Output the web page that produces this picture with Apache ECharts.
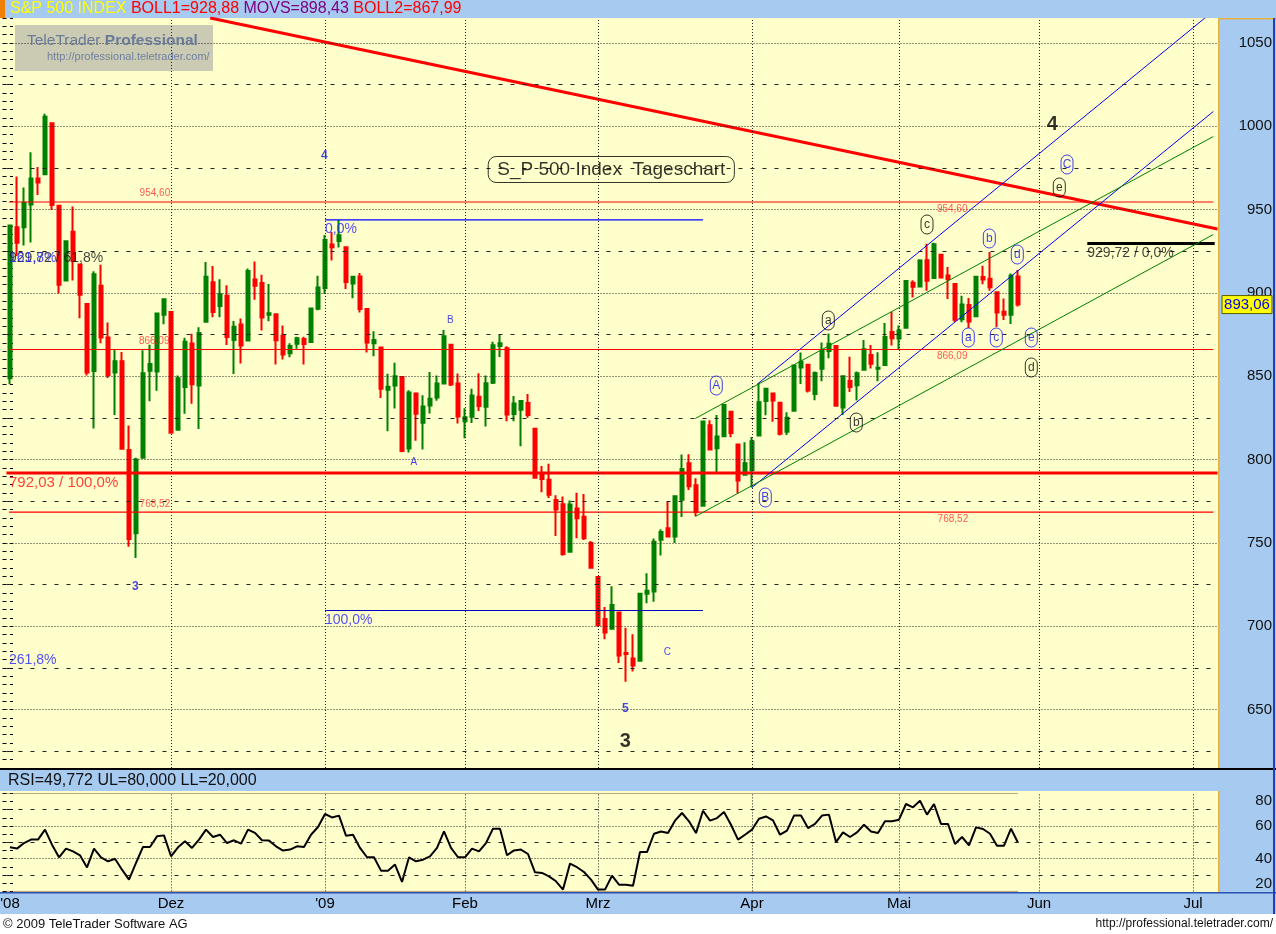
<!DOCTYPE html>
<html><head><meta charset="utf-8">
<script src="https://cdn.jsdelivr.net/npm/echarts@6/dist/echarts.min.js"></script>
<style>html,body{margin:0;padding:0;background:#fff}#c{width:1276px;height:934px}</style>
</head><body><div id="c"></div>
<script>
// ---------- DATA ----------
const dates = [
'2008-10-28','2008-10-29','2008-10-30','2008-10-31',
'2008-11-03','2008-11-04','2008-11-05','2008-11-06','2008-11-07','2008-11-10','2008-11-11','2008-11-12','2008-11-13','2008-11-14','2008-11-17','2008-11-18','2008-11-19','2008-11-20','2008-11-21','2008-11-24','2008-11-25','2008-11-26','2008-11-28',
'2008-12-01','2008-12-02','2008-12-03','2008-12-04','2008-12-05','2008-12-08','2008-12-09','2008-12-10','2008-12-11','2008-12-12','2008-12-15','2008-12-16','2008-12-17','2008-12-18','2008-12-19','2008-12-22','2008-12-23','2008-12-24','2008-12-26','2008-12-29','2008-12-30','2008-12-31',
'2009-01-02','2009-01-05','2009-01-06','2009-01-07','2009-01-08','2009-01-09','2009-01-12','2009-01-13','2009-01-14','2009-01-15','2009-01-16','2009-01-20','2009-01-21','2009-01-22','2009-01-23','2009-01-26','2009-01-27','2009-01-28','2009-01-29','2009-01-30',
'2009-02-02','2009-02-03','2009-02-04','2009-02-05','2009-02-06','2009-02-09','2009-02-10','2009-02-11','2009-02-12','2009-02-13','2009-02-17','2009-02-18','2009-02-19','2009-02-20','2009-02-23','2009-02-24','2009-02-25','2009-02-26','2009-02-27',
'2009-03-02','2009-03-03','2009-03-04','2009-03-05','2009-03-06','2009-03-09','2009-03-10','2009-03-11','2009-03-12','2009-03-13','2009-03-16','2009-03-17','2009-03-18','2009-03-19','2009-03-20','2009-03-23','2009-03-24','2009-03-25','2009-03-26','2009-03-27','2009-03-30','2009-03-31',
'2009-04-01','2009-04-02','2009-04-03','2009-04-06','2009-04-07','2009-04-08','2009-04-09','2009-04-13','2009-04-14','2009-04-15','2009-04-16','2009-04-17','2009-04-20','2009-04-21','2009-04-22','2009-04-23','2009-04-24','2009-04-27','2009-04-28','2009-04-29','2009-04-30',
'2009-05-01','2009-05-04','2009-05-05','2009-05-06','2009-05-07','2009-05-08','2009-05-11','2009-05-12','2009-05-13','2009-05-14','2009-05-15','2009-05-18','2009-05-19','2009-05-20','2009-05-21','2009-05-22','2009-05-26','2009-05-27'
];
const futureDates = [
'2009-05-28','2009-05-29',
'2009-06-01','2009-06-02','2009-06-03','2009-06-04','2009-06-05','2009-06-08','2009-06-09','2009-06-10','2009-06-11','2009-06-12',
'2009-06-15','2009-06-16','2009-06-17','2009-06-18','2009-06-19','2009-06-22','2009-06-23','2009-06-24','2009-06-25','2009-06-26',
'2009-06-29','2009-06-30','2009-07-01','2009-07-02','2009-07-06','2009-07-07'
];
const open = [
848.92,939.51,939.38,953.11,
968.67,971.31,1001.84,952.40,907.44,936.75,917.15,893.39,853.13,904.36,873.23,852.34,859.03,805.87,755.84,801.20,853.40,852.90,886.89,
888.61,817.94,843.60,869.75,844.43,882.71,906.48,892.17,898.35,871.79,881.07,871.53,908.16,905.98,886.96,887.20,874.31,863.87,869.51,872.37,870.58,890.59,
902.99,929.17,931.17,927.45,905.73,909.91,890.40,869.79,867.28,841.99,844.45,849.64,806.77,839.74,822.16,832.50,837.30,845.73,868.89,845.69,
823.09,825.69,837.77,831.75,846.09,868.24,866.87,827.41,829.91,833.95,818.61,791.06,787.91,775.87,773.25,744.69,770.64,765.76,749.93,
729.57,704.44,698.60,708.27,684.04,680.76,679.28,719.59,720.89,751.97,758.84,753.88,776.01,797.92,784.58,772.31,820.60,806.81,814.06,828.68,809.07,790.88,
793.59,814.53,835.13,839.75,834.12,816.76,829.29,855.33,856.88,839.44,854.54,865.18,868.27,831.25,847.26,844.62,853.91,862.82,854.48,856.85,876.59,
872.74,879.21,906.10,903.95,919.58,909.03,922.99,910.52,905.40,884.24,892.76,886.07,909.67,908.62,900.42,888.68,887.00,909.95
];
const high = [
940.51,969.97,963.23,984.38,
975.57,1007.51,1001.84,952.40,931.46,951.95,917.15,893.39,913.01,916.88,882.29,865.90,864.57,820.52,801.20,865.60,868.94,887.68,896.25,
888.61,850.54,873.12,875.60,879.42,918.57,916.26,908.27,904.63,883.24,884.63,914.66,918.85,911.02,905.47,887.37,880.44,869.79,873.74,873.70,891.12,910.32,
934.73,936.63,943.85,927.45,910.00,911.93,890.40,877.02,867.28,851.59,858.13,849.64,841.72,839.74,838.61,852.53,850.45,877.86,868.89,851.66,
830.78,842.60,851.85,850.55,870.75,875.01,868.05,838.22,835.48,839.43,818.61,796.17,797.58,778.69,777.85,775.49,780.12,779.42,751.27,
729.57,711.67,724.12,708.27,699.09,695.27,719.60,731.92,752.63,758.29,774.53,778.12,803.04,803.24,788.91,823.37,823.65,826.78,832.98,828.68,809.07,810.48,
813.62,845.61,842.50,839.75,834.12,828.42,856.91,864.31,856.88,852.93,870.35,875.63,868.27,850.09,861.78,852.87,871.80,868.83,864.48,882.06,888.70,
880.48,907.85,907.70,920.28,929.58,930.17,922.99,915.57,905.40,898.36,896.97,910.00,916.39,924.60,900.42,896.65,911.76,913.84
];
const low = [
845.27,922.26,928.50,930.23,
958.82,971.31,949.86,899.73,906.90,907.47,884.90,850.48,818.69,869.88,848.98,826.84,806.18,747.78,741.02,801.20,834.99,841.37,881.21,
815.69,817.94,827.60,833.60,818.41,882.71,885.38,885.45,868.73,851.35,857.72,871.53,895.94,877.44,883.02,857.09,860.10,861.44,866.52,857.07,870.58,889.67,
899.35,919.53,927.28,902.37,896.81,888.31,864.32,862.02,836.93,817.04,830.66,804.47,804.30,811.29,806.07,827.69,835.40,845.73,844.15,821.67,
812.87,821.98,829.18,819.91,845.42,861.65,822.99,822.99,808.06,825.21,789.17,780.43,777.03,754.25,742.37,744.69,752.89,751.75,734.52,
699.70,692.30,698.60,677.93,666.79,672.88,679.28,713.85,714.76,742.46,753.37,749.93,765.64,781.82,766.20,772.31,805.48,791.37,814.06,813.43,779.81,790.88,
783.32,814.53,826.70,822.79,814.53,814.84,829.29,845.35,840.25,835.58,847.04,860.87,832.39,826.83,840.57,835.45,853.91,854.65,847.12,856.85,868.51,
866.10,879.21,897.34,903.95,901.36,909.03,908.68,896.46,882.80,882.52,878.94,886.07,905.22,901.37,879.61,883.75,881.46,891.87
];
const close = [
940.51,930.09,954.09,968.75,
966.30,1005.75,952.77,904.88,930.99,919.21,898.95,852.30,911.29,873.29,850.75,859.12,806.58,752.44,800.03,851.81,857.39,887.68,896.24,
816.21,848.81,870.74,845.22,876.07,909.70,888.67,899.24,873.59,879.73,868.57,913.18,904.42,885.28,887.88,871.63,863.16,868.15,872.80,869.42,890.64,903.25,
931.80,927.45,934.70,906.65,909.73,890.35,870.26,871.79,842.62,843.74,850.12,805.22,840.24,827.50,831.95,836.57,845.71,874.09,845.14,825.88,
825.44,838.51,832.23,845.85,868.60,869.89,827.16,833.74,835.19,826.84,789.17,788.42,778.94,770.05,743.33,773.14,764.90,752.83,735.09,
700.82,696.33,712.87,682.55,683.38,676.53,719.60,721.36,750.74,756.55,753.89,778.12,794.35,784.04,768.54,822.92,806.12,813.88,832.86,815.94,787.53,797.87,
811.08,834.38,842.50,835.48,815.55,825.16,856.56,858.73,841.50,852.06,865.30,869.60,832.39,850.08,843.55,851.92,866.23,857.51,855.16,873.64,872.81,
877.52,907.24,903.80,919.53,907.39,929.23,909.24,908.35,883.92,893.07,882.88,909.71,908.13,903.47,888.33,887.00,910.33,893.06
];
const rsi = [
47.0,46.2,49.6,51.7,51.7,57.8,48.6,40.9,46.2,44.5,42.1,34.7,46.2,40.9,38.4,40.0,33.3,27.2,37.4,47.2,
47.2,53.7,54.3,41.5,47.0,50.7,46.6,51.7,57.8,53.3,54.7,49.6,51.3,49.2,57.8,55.8,51.3,51.1,47.6,45.0,
45.6,47.6,47.2,54.7,59.4,67.4,65.3,66.4,54.1,54.7,46.6,40.9,40.9,32.7,32.7,36.4,25.8,40.9,38.4,39.4,
41.5,46.6,56.8,46.6,40.9,40.9,46.2,44.5,49.6,58.4,58.4,42.1,45.1,45.6,42.9,31.7,31.3,29.2,26.2,21.1,
37.0,34.8,31.9,27.2,21.1,21.1,29.6,24.1,24.1,23.5,44.1,44.1,55.3,56.7,55.7,63.3,68.0,62.9,55.7,69.4,
63.3,64.9,68.6,60.8,51.7,54.7,57.8,64.5,65.9,63.5,54.7,57.2,66.4,66.4,58.8,61.3,66.4,67.0,50.2,56.1,
53.3,56.1,60.8,56.7,55.7,62.9,62.9,63.9,73.5,71.5,75.5,67.0,73.5,61.3,61.3,49.0,53.3,48.2,59.2,58.2,
55.3,48.0,48.0,58.4,49.8
];
const yTicksMain = [650,700,750,800,850,900,950,1000,1050];
const yTicksRsi = [20,40,60,80];
const rsiBands = [20,80];
// horizontal support/resistance levels
const thinLevels = [954.60, 866.09, 768.52];
const keyLevel = 792.03;
const fibTop = 943.85, fibBottom = 709.5, projLevel = 929.72;
// trend lines [[index,value],[index,value]]
const redTrend   = [[28.6,1065],[172.5,938.4]];
const blueUpper  = [[106.7,845.1],[170.7,1065]];
const blueLower  = [[106.0,783.3],[171.9,1008.9]];
const greenUpper = [[97.9,824.7],[171.9,993.9]];
const greenLower = [[97.9,765.9],[171.9,935.1]];
// annotations: text, index, value, kind
const notes = [
['954,60',20.7,959.7,'lvl'],['954,60',134.6,950.1,'lvl'],
['866,09',20.6,870.9,'lvl'],['866,09',134.6,861.9,'lvl'],
['768,52',20.7,773.1,'lvl'],['768,52',134.7,764.1,'lvl'],
['792,03 / 100,0%',-0.14,786.3,'big'],
['261,8%',-0.14,679.5,'fibB'],
['929,72 / 61,8%',-0.14,920.7,'fibK'],
['161,8%',-0.14,920.7,'fibB'],
['100,0%',45,703.5,'fibB'],
['0,0%',45,938.1,'fibB'],
['929,72 / 0,0%',153.9,923.7,'fibK'],
['4',44.9,982.5,'wB'],['3',17.9,723.9,'wB'],['5',87.9,650.7,'wB'],
['C',93.9,684.3,'wBs'],['B',62.9,883.5,'wBs'],['A',57.7,798.3,'wBs'],
['3',87.9,630.9,'wK'],['4',148.9,1001.1,'wK'],
['A',100.9,844.5,'cB'],['B',107.9,777.3,'cB'],
['a',116.9,883.5,'cK'],['b',120.9,822.3,'cK'],['c',131.0,941.1,'cK'],
['b',139.9,932.7,'cB'],['d',143.9,923.1,'cB'],
['e',149.9,963.3,'cK'],['C',151.0,977.1,'cB'],
['a',136.9,873.3,'cB'],['c',140.9,873.3,'cB'],['e',145.9,873.3,'cB'],
['d',145.9,855.3,'cK'],
['S_P 500 Index  Tageschart',85.9,974.1,'title']
];
// ---------- BUILD ----------
const FONT = 'Liberation Sans, Arial, sans-serif';
const NARROW = 'Liberation Sans Narrow, Liberation Sans, Arial, sans-serif';
const MON = ['Jan','Feb','Mrz','Apr','Mai','Jun','Jul','Aug','Sep','Okt','Nov','Dez'];
const allDates = dates.concat(futureDates);
const N = allDates.length;
const monthLabel = {};
allDates.forEach((d,i)=>{
  const yy = d.slice(2,4), m = +d.slice(5,7);
  if (i===0) monthLabel[i] = "'"+yy;
  else if (i >= 10 && m !== +allDates[i-1].slice(5,7)) monthLabel[i] = (m===1 ? "'"+yy : MON[m-1]);
});
const monthStarts = Object.keys(monthLabel).map(Number).filter(i=>i>0);
const last = close.length-1;

const dotted = {type:[1,2], color:'#222', width:1};
const dashed = {type:[4,8], color:'#222', width:1};

function hLines(vals, style){ return vals.map(v=>({yAxis:v, lineStyle:style})); }
const mainGrid = hLines(yTicksMain, dotted)
  .concat(hLines(yTicksMain.map(v=>v-25), dashed))
  .concat(monthStarts.map(i=>({xAxis:i, lineStyle:dotted})));
const rsiGrid = hLines([40,60], dotted)
  .concat(hLines([30,50,70], dashed))
  .concat(monthStarts.map(i=>({xAxis:i, lineStyle:dotted})));

function seg(points, color, width, z){
  return {type:'line', xAxisIndex:1, yAxisIndex:0, data:points, showSymbol:false, symbol:'none',
    silent:true, z:z||3, itemStyle:{color:color}, lineStyle:{color:color, width:width}, clip:true};
}
function noteLabel(t, kind){
  const base = {show:true, formatter:t, position:[0,0], verticalAlign:'middle', fontFamily:FONT};
  switch(kind){
    case 'lvl': return Object.assign(base,{align:'center', fontSize:10, color:'#FF3030'});
    case 'big': return Object.assign(base,{align:'left', fontSize:15, color:'#FF1010'});
    case 'fibB': return Object.assign(base,{align:'left', fontSize:14, color:'#2424FF'});
    case 'fibK': return Object.assign(base,{align:'left', fontSize:14, color:'#111'});
    case 'wB': return Object.assign(base,{align:'center', fontSize:12, fontWeight:'bold', color:'#1414E0'});
    case 'wBs': return Object.assign(base,{align:'center', fontSize:10, color:'#1414E0'});
    case 'wK': return Object.assign(base,{align:'center', fontSize:20, fontWeight:'bold', color:'#000'});
    case 'cB': case 'cK': {
      const c = kind==='cB' ? '#1010F0' : '#000';
      return Object.assign(base,{align:'center', fontSize:12, color:c, borderColor:c, borderWidth:1,
        borderRadius:7, width:12, height:19, lineHeight:19, padding:0});
    }
    case 'title': return Object.assign(base,{align:'center', fontSize:19, color:'#000', borderColor:'#000',
        borderWidth:1, borderRadius:8, padding:[4,9,3,9]});
  }
}

const BLUE = '#A6CAF0';
function graphics(tagY){
  const g = [
    {type:'rect', shape:{x:0,y:0,width:1276,height:18}, style:{fill:BLUE}, z:-1},
    {type:'rect', shape:{x:0,y:0,width:5,height:18}, style:{fill:'#F08000'}, z:-1},
    {type:'rect', shape:{x:1218,y:18,width:58,height:876}, style:{fill:BLUE}, z:-1},
    {type:'rect', shape:{x:0,y:768,width:1276,height:2}, style:{fill:'#000'}, z:-1},
    {type:'rect', shape:{x:0,y:770,width:1276,height:21}, style:{fill:BLUE}, z:-1},
    {type:'rect', shape:{x:0,y:893,width:1276,height:21}, style:{fill:BLUE}, z:-1},
    {type:'rect', shape:{x:0,y:892,width:1276,height:1.5}, style:{fill:'#2A50B0'}, z:-1},
    {type:'rect', shape:{x:0,y:914,width:1276,height:20}, style:{fill:'#FFFFFF'}, z:-1},
    {type:'rect', shape:{x:1218,y:18,width:1.5,height:750}, style:{fill:'#E8B040'}, z:-1},
    {type:'rect', shape:{x:1218,y:791,width:1.5,height:101}, style:{fill:'#E8B040'}, z:-1},
    {type:'rect', shape:{x:1218,y:18,width:58,height:1.5}, style:{fill:'#E8B040'}, z:-1},
    {type:'rect', shape:{x:1273,y:18,width:2,height:896}, style:{fill:'#2040C0'}, z:-1},
    {type:'text', x:10, y:9, z:10, style:{text:'{a|S&P 500 INDEX} {b|BOLL1=928,88} {c|MOVS=898,43} {b|BOLL2=867,99}',
      font:'16px '+FONT, verticalAlign:'middle',
      rich:{a:{fill:'#FFFF00',fontSize:16,fontFamily:FONT}, b:{fill:'#FF0000',fontSize:16,fontFamily:FONT}, c:{fill:'#800080',fontSize:16,fontFamily:FONT}}}},
    {type:'rect', shape:{x:15,y:25,width:198,height:46}, style:{fill:'#CBCBB4'}, z:5},
    {type:'text', x:27, y:41, z:6, style:{text:'{n|TeleTrader }{b|Professional}', verticalAlign:'middle',
      rich:{n:{fill:'#6A7A98',fontSize:15.5,fontFamily:FONT}, b:{fill:'#6A7A98',fontSize:15.5,fontWeight:'bold',fontFamily:FONT}}}},
    {type:'text', x:47, y:57, z:6, style:{text:'http://professional.teletrader.com/', fill:'#7080A0', font:'11px '+FONT, verticalAlign:'middle'}},
    {type:'text', x:8, y:781, z:10, style:{text:'RSI=49,772 UL=80,000 LL=20,000', fill:'#111', font:'16px '+FONT, verticalAlign:'middle'}},
    {type:'text', x:3, y:924, z:10, style:{text:'\u00A9 2009 TeleTrader Software AG', fill:'#111', font:'13px '+NARROW, verticalAlign:'middle'}},
    {type:'text', x:1273, y:924, z:10, style:{text:'http://professional.teletrader.com/', fill:'#111', font:'12px '+NARROW, verticalAlign:'middle', align:'right'}}
  ];
  if (tagY != null) {
    g.push({type:'rect', shape:{x:1222,y:tagY-9,width:50,height:18}, style:{fill:'#FFFF00', stroke:'#5A5A00', lineWidth:1}, z:20});
    g.push({type:'text', x:1247, y:tagY, z:21, style:{text:close[last].toFixed(2).replace('.',','), fill:'#0000FF', font:'15px '+FONT, align:'center', verticalAlign:'middle'}});
  }
  return g;
}

const candles = dates.map((d,i)=>[open[i], close[i], low[i], high[i]]);

const option = {
  animation:false,
  backgroundColor:'#FFFFCC',
  grid:[
    {left:6.5, right:58.5, top:18, height:750, outerBoundsMode:'none', containLabel:false},
    {left:6.5, right:58.5, top:793.4, height:98, outerBoundsMode:'none', containLabel:false}
  ],
  xAxis:[
    {type:'category', gridIndex:0, data:allDates, boundaryGap:true, axisLabel:{show:false}, axisTick:{show:false}, axisLine:{show:false}, splitLine:{show:false}},
    {type:'value', gridIndex:0, min:-0.5, max:N-0.5, show:false, splitLine:{show:false}},
    {type:'category', gridIndex:1, data:allDates, boundaryGap:true, axisTick:{show:false}, axisLine:{show:false}, splitLine:{show:false},
      axisLabel:{interval:(idx)=>monthLabel[idx]!==undefined, formatter:(v,idx)=>monthLabel[idx]||'', fontSize:15, color:'#000', margin:5, fontFamily:NARROW}},
    {type:'value', gridIndex:1, min:-0.5, max:N-0.5, show:false, splitLine:{show:false}}
  ],
  yAxis:[
    {type:'value', gridIndex:0, position:'right', min:615, max:1065, interval:5,
      axisLine:{show:false}, splitLine:{show:false},
      axisTick:{show:true, length:3, lineStyle:{color:'#000'}},
      axisLabel:{formatter:v=>yTicksMain.indexOf(Math.round(v))>=0 && Math.abs(v-Math.round(v))<1e-6 ? String(Math.round(v)) : '', align:'right', margin:54.5, fontSize:15, color:'#111', fontFamily:FONT}},
    {type:'value', gridIndex:0, position:'left', min:615, max:1065, interval:5,
      axisLine:{show:false}, splitLine:{show:false}, axisLabel:{show:false},
      axisTick:{show:true, length:4, lineStyle:{color:'#000'}}},
    {type:'value', gridIndex:1, position:'right', min:20, max:80, interval:5,
      axisLine:{show:false}, splitLine:{show:false},
      axisTick:{show:true, length:3, lineStyle:{color:'#000'}},
      axisLabel:{formatter:v=>yTicksRsi.indexOf(Math.round(v))>=0 ? String(Math.round(v)) : '', align:'right', margin:54.5, fontSize:15, color:'#111', fontFamily:FONT,
        verticalAlignMaxLabel:'top', verticalAlignMinLabel:'bottom'}},
    {type:'value', gridIndex:1, position:'left', min:20, max:80, interval:5,
      axisLine:{show:false}, splitLine:{show:false}, axisLabel:{show:false},
      axisTick:{show:true, length:4, lineStyle:{color:'#000'}}}
  ],
  series:[
    {type:'line', xAxisIndex:1, yAxisIndex:0, data:[], z:1, silent:true,
      markLine:{silent:true, symbol:['none','none'], label:{show:false}, animation:false, data:mainGrid}},
    {type:'line', xAxisIndex:3, yAxisIndex:2, data:[], z:1, silent:true,
      markLine:{silent:true, symbol:['none','none'], label:{show:false}, animation:false, data:rsiGrid}},
    {type:'candlestick', xAxisIndex:0, yAxisIndex:0, data:candles, barWidth:3, z:2, silent:true,
      itemStyle:{color:'#008000', color0:'#FF0000', borderColor:'#008000', borderColor0:'#FF0000', borderWidth:2}},
    seg([[-0.14,thinLevels[0]],[171.9,thinLevels[0]]], '#FF0000', 1.2),
    seg([[-0.14,thinLevels[1]],[171.9,thinLevels[1]]], '#FF0000', 1.2),
    seg([[-0.14,thinLevels[2]],[171.9,thinLevels[2]]], '#FF0000', 1.2),
    seg([[-0.5,keyLevel],[N-0.5,keyLevel]], '#FF0000', 3),
    seg([[45,fibTop],[99,fibTop]], '#0000FF', 1.2),
    seg([[45,fibBottom],[99,fibBottom]], '#0000C0', 1.2),
    seg([[153.9,projLevel],[172.1,projLevel]], '#000', 3),
    seg(redTrend, '#FF0000', 3),
    seg(blueUpper, '#0000FF', 1),
    seg(blueLower, '#0000FF', 1),
    seg(greenUpper, '#008000', 1),
    seg(greenLower, '#008000', 1),
    {type:'scatter', xAxisIndex:1, yAxisIndex:0, symbolSize:0, silent:true, z:6,
      itemStyle:{color:'rgba(0,0,0,0)'},
      data:notes.map(n=>({value:[n[1],n[2]], label:noteLabel(n[0],n[3])}))},
    {type:'line', xAxisIndex:3, yAxisIndex:2, data:[[-0.5,rsiBands[0]],[last,rsiBands[0]]], showSymbol:false, symbol:'none', silent:true, z:2,
      lineStyle:{color:'#6B3A1A', width:1, type:[1,1]}},
    {type:'line', xAxisIndex:3, yAxisIndex:2, data:[[-0.5,rsiBands[1]],[last,rsiBands[1]]], showSymbol:false, symbol:'none', silent:true, z:2,
      lineStyle:{color:'#6B3A1A', width:1, type:[1,1]}},
    {type:'line', xAxisIndex:2, yAxisIndex:2, data:rsi, showSymbol:false, symbol:'none', silent:true, z:3,
      lineStyle:{color:'#000', width:2}}
  ],
  graphic:{elements:graphics(null)}
};

const chart = echarts.init(document.getElementById('c'), null, {renderer:'canvas'});
chart.setOption(option);
const tagY = chart.convertToPixel({yAxisIndex:0}, close[last]);
option.graphic = {elements:graphics(tagY)};
chart.setOption(option);
</script>
</body></html>
